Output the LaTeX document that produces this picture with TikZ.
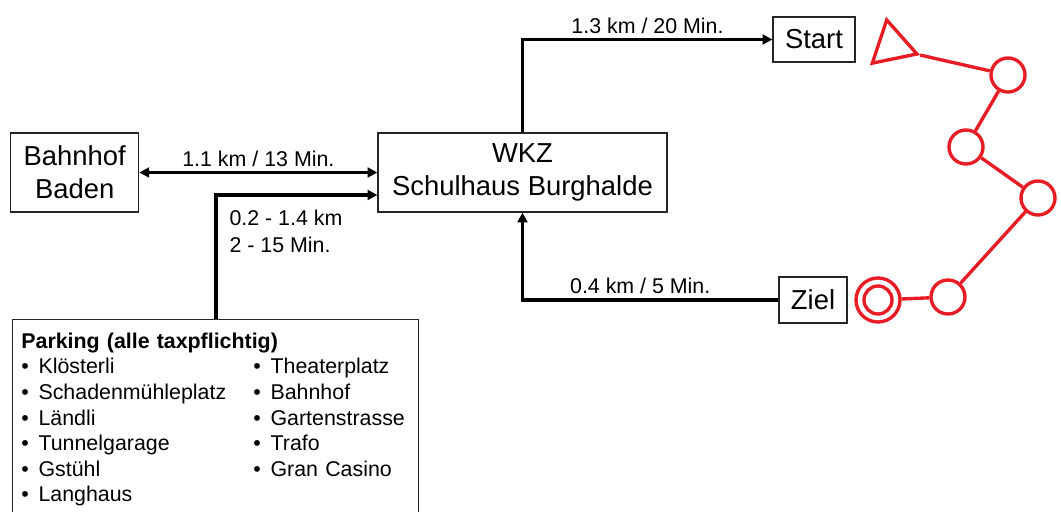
\documentclass[tikz,border=0pt]{standalone}
\usepackage{fontspec}
\setmainfont{Liberation Sans}
\usepackage{array}
\usetikzlibrary{
	arrows.meta,
	positioning,
	shapes.geometric
}
\definecolor{rot}{RGB}{232,28,36}
\newcommand{\pkt}{\makebox[0.43cm][l]{\textbullet}}

\begin{document}
\begin{tikzpicture}[
			x=0.025cm, y=-0.025cm,
			gross/.style={font=\fontsize{19.5}{23.5}\selectfont},
			klein/.style={font=\fontsize{15.2}{18.2}\selectfont},
			ort/.style={draw=black!85, line width=0.8pt, align=center, inner sep=2pt, gross},
			lbl/.style={klein, inner sep=3pt},
			>={Triangle[length=7pt, width=7pt]},
			fl/.style={->, line width=2.4pt},
			po/.style={circle, draw=rot, line width=2.4pt, minimum size=0.85cm, inner sep=0pt},
			kurs/.style={draw=rot, line width=2.4pt}
		]
		\useasboundingbox (0,0) rectangle (1061,512);
		\clip (0,0) rectangle (1061,512);

		\node[ort, minimum width=7.225cm, minimum height=1.975cm] (wkz) at (522.5,172.5) {WKZ\\ Schulhaus Burghalde};
		\node[ort, minimum width=3.2cm, minimum height=1.975cm, left=5.95cm of wkz] (bhf) {Bahnhof\\ Baden};
		\node[ort, minimum width=2.05cm, minimum height=1.125cm] (start) at (814,39.5) {Start};
		\node[ort, minimum width=1.7cm, minimum height=1.15cm] (ziel) at (813,300) {Ziel};

		\node[ort, klein, anchor=north west, align=left, inner xsep=0.22cm, inner ysep=0.27cm, text width=9.71cm, text depth=6cm] (park) at (12,319) {%
			\begin{tabular}[t]{@{}p{5.8cm}@{}l@{}}
				\multicolumn{2}{@{}l@{}}{\textbf{Parking (alle taxpflichtig)}}\\
				\pkt Klösterli & \pkt Theaterplatz\\
				\pkt Schadenmühleplatz & \pkt Bahnhof\\
				\pkt Ländli & \pkt Gartenstrasse\\
				\pkt Tunnelgarage & \pkt Trafo\\
				\pkt Gstühl & \pkt Gran Casino\\
				\pkt Langhaus & \\
			\end{tabular}};

		\draw[fl, <->] (bhf) -- node[lbl, above] (l1) {1.1 km / 13 Min.} (wkz);
		\draw[fl] (wkz.north) |- node[lbl, above, pos=0.75] (l2) {1.3 km / 20 Min.} (start);
		\draw[fl] (ziel) -| node[lbl, above, pos=0.27] (l3) {0.4 km / 5 Min.} (wkz.south);

		\coordinate (pk) at ([xshift=5.1cm]park.north west);
		\draw[fl] (pk) |- ([yshift=-0.5625cm]wkz.west);
		\node[lbl, anchor=north west, align=left, font=\fontsize{15.2}{19.2}\selectfont] (l4) at (225,206) {0.2 - 1.4 km\\ 2 - 15 Min.};

		\node[regular polygon, regular polygon sides=3, draw=rot, line width=2.4pt, minimum size=1.315cm, inner sep=0pt, rotate=-108.4] (dreieck) at (892,45.7) {};
		\node[po] (p1) at (1008,75) {};
		\node[po] (p2) at (966,147) {};
		\node[po] (p3) at (1038,198) {};
		\node[po] (p4) at (948,297) {};
		\node[po, minimum size=1.1cm] (zo) at (878,300) {};
		\node[po, minimum size=0.7cm] (zi) at (zo) {};

		\draw[kurs] (dreieck.corner 1) -- (p1) -- (p2) -- (p3) -- (p4) -- (zo);
	\end{tikzpicture}
\end{document}
